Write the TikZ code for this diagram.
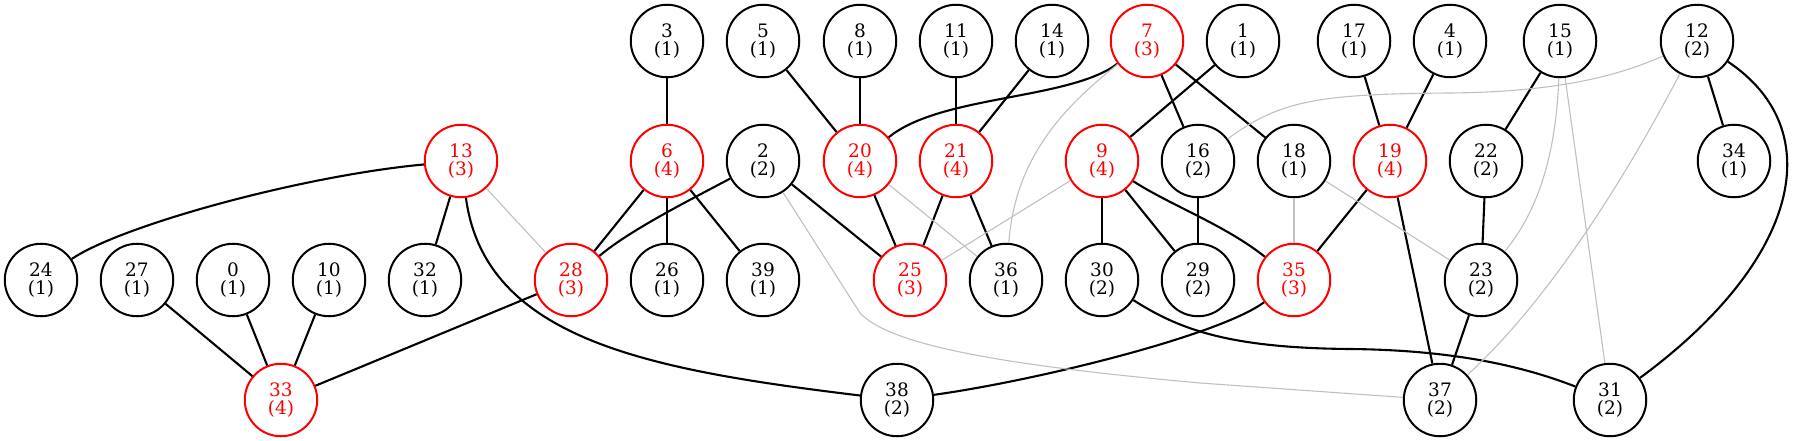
\documentclass[tikz,border=0pt]{standalone}
\usepackage{fontspec}
\setmainfont{DejaVu Serif}
\definecolor{edgegray}{RGB}{192,192,192}
\begin{document}
\begin{tikzpicture}[x=1pt,y=-1pt,
  nd/.style={circle,draw=black,line width=2pt,minimum size=72.5pt,inner sep=0pt,align=center,font=\fontsize{18.5}{18.5}\selectfont},
  hot/.style={nd,draw=red,text=red},
  e/.style={line width=2.1pt,draw=black},
  weak/.style={line width=1.1pt,draw=edgegray}]
\useasboundingbox (0,0) rectangle (1797,441);
% row 1
\node[nd]  (n3)  at (667,41)  {3\\(1)};
\node[nd]  (n5)  at (763,41)  {5\\(1)};
\node[nd]  (n8)  at (860,41)  {8\\(1)};
\node[nd]  (n11) at (956,41)  {11\\(1)};
\node[nd]  (n14) at (1052,41) {14\\(1)};
\node[hot] (n7)  at (1147,41) {7\\(3)};
\node[nd]  (n1)  at (1243,41) {1\\(1)};
\node[nd]  (n17) at (1354,41) {17\\(1)};
\node[nd]  (n4)  at (1450,41) {4\\(1)};
\node[nd]  (n15) at (1560,41) {15\\(1)};
\node[nd]  (n12) at (1697,41) {12\\(2)};
% row 2
\node[hot] (n13) at (461,161)  {13\\(3)};
\node[hot] (n6)  at (667,161)  {6\\(4)};
\node[nd]  (n2)  at (763,161)  {2\\(2)};
\node[hot] (n20) at (860,161)  {20\\(4)};
\node[hot] (n21) at (956,161)  {21\\(4)};
\node[hot] (n9)  at (1102,161) {9\\(4)};
\node[nd]  (n16) at (1198,161) {16\\(2)};
\node[nd]  (n18) at (1294,161) {18\\(1)};
\node[hot] (n19) at (1390,161) {19\\(4)};
\node[nd]  (n22) at (1486,161) {22\\(2)};
\node[nd]  (n34) at (1734,161) {34\\(1)};
% row 3
\node[nd]  (n24) at (41,280)   {24\\(1)};
\node[nd]  (n27) at (137,280)  {27\\(1)};
\node[nd]  (n0)  at (233,280)  {0\\(1)};
\node[nd]  (n10) at (329,280)  {10\\(1)};
\node[nd]  (n32) at (425,280)  {32\\(1)};
\node[hot] (n28) at (571,280)  {28\\(3)};
\node[nd]  (n26) at (667,280)  {26\\(1)};
\node[nd]  (n39) at (763,280)  {39\\(1)};
\node[hot] (n25) at (910,280)  {25\\(3)};
\node[nd]  (n36) at (1006,280) {36\\(1)};
\node[nd]  (n30) at (1102,280) {30\\(2)};
\node[nd]  (n29) at (1198,280) {29\\(2)};
\node[hot] (n35) at (1294,280) {35\\(3)};
\node[nd]  (n23) at (1481,280) {23\\(2)};
% row 4
\node[hot] (n33) at (281,400)  {33\\(4)};
\node[nd]  (n38) at (897,400)  {38\\(2)};
\node[nd]  (n37) at (1440,400) {37\\(2)};
\node[nd]  (n31) at (1610,400) {31\\(2)};
% strong edges
\draw[e] (n13) .. controls (300,176) and (120,226) .. (n24);
\draw[e] (n13) -- (n32);
\draw[e] (n13) .. controls (485,340) and (650,370) .. (n38);
\draw[e] (n27) -- (n33);
\draw[e] (n0) -- (n33);
\draw[e] (n10) -- (n33);
\draw[e] (n28) -- (n33);
\draw[e] (n3) -- (n6);
\draw[e] (n6) -- (n28);
\draw[e] (n6) -- (n26);
\draw[e] (n6) -- (n39);
\draw[e] (n2) .. controls (690,200) and (630,230) .. (n28);
\draw[e] (n2) -- (n25);
\draw[e] (n5) -- (n20);
\draw[e] (n8) -- (n20);
\draw[e] (n7) .. controls (1070,100) and (940,95) .. (n20);
\draw[e] (n11) -- (n21);
\draw[e] (n14) -- (n21);
\draw[e] (n20) -- (n25);
\draw[e] (n21) -- (n25);
\draw[e] (n21) -- (n36);
\draw[e] (n7) -- (n16);
\draw[e] (n7) -- (n18);
\draw[e] (n1) -- (n9);
\draw[e] (n9) -- (n30);
\draw[e] (n9) -- (n29);
\draw[e] (n9) .. controls (1170,205) and (1225,225) .. (n35);
\draw[e] (n16) -- (n29);
\draw[e] (n17) -- (n19);
\draw[e] (n4) -- (n19);
\draw[e] (n19) -- (n35);
\draw[e] (n19) -- (n37);
\draw[e] (n15) -- (n22);
\draw[e] (n22) -- (n23);
\draw[e] (n23) -- (n37);
\draw[e] (n12) -- (n34);
\draw[e] (n12) .. controls (1830,130) and (1800,260) .. (n31);
\draw[e] (n30) .. controls (1180,330) and (1230,348) .. (1350,349) .. controls (1450,350) and (1520,365) .. (n31);
\draw[e] (n35) .. controls (1220,335) and (1040,380) .. (n38);
% weak edges
\draw[weak] (n13) -- (n28);
\draw[weak] (n2) -- (860,313) .. controls (890,345) and (1000,365) .. (1200,383) -- (n37);
\draw[weak] (n20) -- (n36);
\draw[weak] (n7) .. controls (1060,110) and (1015,160) .. (n36);
\draw[weak] (n9) -- (n25);
\draw[weak] (n16) .. controls (1280,100) and (1320,94) .. (1450,93) .. controls (1560,92) and (1620,75) .. (n12);
\draw[weak] (n18) -- (n35);
\draw[weak] (n18) -- (n23);
\draw[weak] (n15) .. controls (1556,160) and (1535,215) .. (n23);
\draw[weak] (n15) -- (n31);
\draw[weak] (n12) .. controls (1640,150) and (1560,290) .. (n37);
\end{tikzpicture}
\end{document}
